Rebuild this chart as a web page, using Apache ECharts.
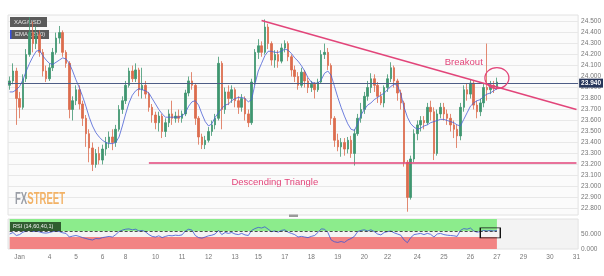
<!DOCTYPE html>
<html>
<head>
<meta charset="utf-8">
<script src="https://cdn.jsdelivr.net/npm/echarts@6/dist/echarts.min.js"></script>
<style>html,body{margin:0;padding:0;background:#fff}#c{width:604px;height:276px}</style>
</head>
<body>
<div id="c"></div>
<script>
// ---- data ----
const dayLabels = ['Jan','4','5','6','8','10','11','12','13','15','17','18','19','20','22','24','25','26','27','29','30','31'];
const dayIdx = [3,12,20,28,35,44,52,60,68,75,83,91,99,107,114,123,131,139,147,155,163,171];
const slotCount = 172;
const yTicks = [22.8,22.9,23.0,23.1,23.2,23.3,23.4,23.5,23.6,23.7,23.8,23.9,24.0,24.1,24.2,24.3,24.4,24.5];
const rsiTicks = [0, 50];
// [open, close, low, high]
const candles = [
[23.92,23.96,23.88,24.00],[23.96,24.05,23.93,24.12],[24.05,23.80,23.56,24.08],[23.80,23.72,23.62,23.86],
[23.72,23.98,23.70,24.02],[23.98,24.20,23.95,24.25],[24.20,24.40,24.18,24.54],[24.40,24.30,24.22,24.50],
[24.30,24.38,24.25,24.46],[24.38,24.22,24.18,24.42],[24.22,24.05,24.00,24.25],[24.05,23.98,23.95,24.10],
[23.98,24.08,23.96,24.12],[24.08,24.22,24.05,24.26],[24.22,24.35,24.20,24.40],[24.35,24.40,24.30,24.46],
[24.40,24.22,24.18,24.42],[24.22,24.12,24.08,24.24],[24.12,23.70,23.62,24.14],[23.70,23.78,23.60,23.82],
[23.78,23.88,23.74,23.92],[23.88,23.75,23.70,23.92],[23.75,23.62,23.55,23.78],[23.62,23.48,23.36,23.65],
[23.48,23.35,23.22,23.52],[23.35,23.20,23.14,23.40],[23.20,23.30,23.17,23.34],[23.30,23.24,23.20,23.36],
[23.24,23.34,23.20,23.38],[23.34,23.40,23.28,23.45],[23.40,23.45,23.35,23.50],[23.45,23.40,23.33,23.52],
[23.40,23.52,23.36,23.56],[23.52,23.70,23.50,23.74],[23.70,23.78,23.66,23.82],[23.78,23.92,23.75,23.96],
[23.92,24.05,23.90,24.08],[24.05,23.98,23.95,24.10],[23.98,24.06,23.95,24.12],[24.06,23.88,23.82,24.08],
[23.88,23.92,23.80,24.08],[23.92,23.84,23.80,23.96],[23.84,23.72,23.68,23.86],[23.72,23.65,23.58,23.75],
[23.65,23.58,23.52,23.68],[23.58,23.64,23.50,23.68],[23.64,23.50,23.44,23.66],[23.50,23.58,23.45,23.62],
[23.58,23.66,23.54,23.70],[23.66,23.62,23.56,23.78],[23.62,23.64,23.58,23.68],[23.64,23.62,23.58,23.70],
[23.62,23.66,23.58,23.69],[23.66,23.85,23.64,23.88],[23.85,23.96,23.82,24.00],[23.96,23.92,23.88,24.04],
[23.92,23.62,23.56,23.94],[23.62,23.45,23.38,23.64],[23.45,23.38,23.34,23.48],[23.38,23.42,23.34,23.46],
[23.42,23.50,23.40,23.54],[23.50,23.56,23.46,23.60],[23.56,23.62,23.52,23.66],[23.62,24.12,23.60,24.18],
[24.12,23.70,23.52,24.14],[23.70,23.86,23.66,23.90],[23.86,23.80,23.74,23.92],[23.80,23.88,23.76,23.92],
[23.88,23.78,23.72,23.90],[23.78,23.72,23.66,23.82],[23.72,23.80,23.68,23.84],[23.80,23.66,23.60,23.82],
[23.66,23.58,23.54,23.70],[23.58,23.95,23.56,23.98],[23.95,24.22,23.92,24.25],[24.22,24.28,24.16,24.34],
[24.28,24.22,24.18,24.32],[24.22,24.45,24.20,24.52],[24.45,24.30,24.25,24.48],[24.30,24.15,24.10,24.32],
[24.15,24.20,24.08,24.24],[24.20,24.14,24.08,24.24],[24.14,24.26,24.12,24.30],[24.26,24.30,24.22,24.33],
[24.30,24.18,24.14,24.32],[24.18,24.06,24.00,24.20],[24.06,24.00,23.95,24.10],[24.00,23.92,23.88,24.04],
[23.92,24.04,23.90,24.08],[24.04,23.96,23.90,24.06],[23.96,23.90,23.85,23.99],[23.90,23.93,23.86,23.96],
[23.93,23.88,23.80,23.95],[23.88,23.95,23.86,23.98],[23.95,24.20,23.94,24.24],[24.20,24.22,24.16,24.30],
[24.22,24.10,24.06,24.26],[24.10,23.62,23.56,24.12],[23.62,23.42,23.36,23.64],[23.42,23.36,23.32,23.48],
[23.36,23.40,23.27,23.44],[23.40,23.34,23.28,23.44],[23.34,23.42,23.30,23.45],[23.42,23.30,23.26,23.46],
[23.30,23.48,23.19,23.52],[23.48,23.62,23.46,23.66],[23.62,23.70,23.58,23.76],[23.70,23.82,23.66,23.86],
[23.82,23.90,23.78,23.96],[23.90,23.98,23.85,24.03],[23.98,23.92,23.86,24.02],[23.92,23.82,23.76,23.95],
[23.82,23.76,23.74,23.86],[23.76,23.90,23.72,23.92],[23.90,23.98,23.86,24.02],[23.98,24.08,23.95,24.13],
[24.08,23.96,23.90,24.10],[23.96,23.85,23.78,23.98],[23.85,23.76,23.70,23.88],[23.76,23.22,23.18,23.78],
[23.22,22.90,22.77,23.24],[22.90,23.25,22.88,23.28],[23.25,23.48,23.22,23.52],[23.48,23.56,23.42,23.60],
[23.56,23.60,23.50,23.64],[23.60,23.58,23.52,23.64],[23.58,23.72,23.56,23.76],[23.72,23.68,23.60,23.78],
[23.68,23.30,23.24,23.72],[23.30,23.66,23.28,23.70],[23.66,23.72,23.62,23.76],[23.72,23.66,23.60,23.76],
[23.66,23.62,23.56,23.70],[23.62,23.56,23.50,23.66],[23.56,23.52,23.44,23.60],[23.52,23.46,23.35,23.56],
[23.46,23.72,23.42,23.76],[23.72,23.88,23.68,23.92],[23.88,23.84,23.78,23.94],[23.84,23.94,23.80,23.97],
[23.94,23.74,23.70,23.96],[23.74,23.68,23.62,23.78],[23.68,23.76,23.64,23.80],[23.76,23.90,23.72,23.94],
[23.90,23.88,23.78,24.30],[23.88,23.92,23.84,23.96],[23.92,23.90,23.85,23.96],[23.90,23.95,23.88,23.99]
];
const ema = [
23.86,23.86,23.88,23.91,23.97,24.05,24.12,24.18,24.23,24.24,24.19,24.15,24.12,24.11,24.13,24.15,
24.17,24.16,24.12,24.05,23.97,23.90,23.82,23.73,23.63,23.55,23.49,23.45,23.42,23.40,23.39,23.39,
23.40,23.45,23.55,23.66,23.76,23.83,23.87,23.89,23.88,23.87,23.85,23.80,23.75,23.70,23.66,23.63,
23.63,23.63,23.63,23.63,23.64,23.67,23.73,23.77,23.78,23.74,23.66,23.59,23.55,23.57,23.63,23.67,
23.71,23.74,23.75,23.78,23.80,23.81,23.81,23.80,23.77,23.79,23.93,24.05,24.12,24.19,24.23,24.23,
24.22,24.22,24.23,24.25,24.24,24.21,24.17,24.14,24.10,24.05,23.99,23.95,23.94,23.94,23.97,24.03,
24.05,24.01,23.91,23.81,23.72,23.64,23.57,23.52,23.51,23.57,23.65,23.70,23.74,23.76,23.79,23.81,
23.83,23.85,23.88,23.91,23.93,23.92,23.84,23.72,23.63,23.57,23.54,23.52,23.53,23.55,23.56,23.58,
23.59,23.60,23.61,23.61,23.60,23.59,23.58,23.56,23.55,23.61,23.67,23.73,23.76,23.78,23.79,23.82,
23.84,23.85,23.87,23.89
];
const rsi = [
50,55,45,48,56,60,62,58,60,57,54,53,55,58,60,58,54,52,40,43,45,42,38,35,32,30,35,34,38,40,42,40,
48,58,63,66,67,64,66,60,62,57,48,42,40,44,38,42,45,44,46,45,47,60,66,63,45,38,36,40,44,46,50,62,
48,55,52,55,50,48,52,47,45,62,68,72,70,74,66,58,60,56,62,64,56,52,48,40,42,40,38,42,45,55,67,66,
55,30,24,22,25,22,30,35,42,58,62,64,60,64,58,50,47,55,58,60,54,50,46,30,21,38,48,50,52,48,52,49,
40,50,52,48,46,45,44,42,62,68,66,70,60,56,58,62,60,62,60,62
];
const lastPrice = 23.94;
const supportLevel = 23.22;
const trendStart = [76, 24.51];
const trendEnd = [171, 23.70];

// ---- chart ----
const categories = [];
for (let i = 0; i < slotCount; i++) categories.push('s' + i);
const lastIdx = candles.length - 1;
const pink = '#e2457a';
const FONT = "'Liberation Sans', Arial, sans-serif";
const chart = echarts.init(document.getElementById('c'), null, {renderer: 'canvas'});
chart.setOption({
  animation: false,
  backgroundColor: '#ffffff',
  grid: [
    {left: 8, right: 25, top: 15, height: 200, show: true, backgroundColor: '#fbfbfb', borderColor: '#e2e2e2', borderWidth: 1},
    {left: 8, right: 25, top: 219, height: 30, show: true, backgroundColor: '#f3f3f3', borderColor: '#e2e2e2', borderWidth: 1}
  ],
  xAxis: [
    {type: 'category', gridIndex: 0, data: categories, boundaryGap: true,
     axisLine: {show: false}, axisTick: {show: false}, axisLabel: {show: false}, splitLine: {show: false}},
    {type: 'category', gridIndex: 1, data: categories, boundaryGap: true,
     axisLine: {show: false}, axisTick: {show: false}, splitLine: {show: false},
     axisLabel: {show: true, fontSize: 6.5, color: '#777', fontFamily: FONT, margin: 5,
       interval: (idx) => dayIdx.indexOf(idx) >= 0,
       formatter: (v, idx) => { const k = dayIdx.indexOf(idx); return k >= 0 ? dayLabels[k] : ''; }}}
  ],
  yAxis: [
    {type: 'value', gridIndex: 0, position: 'right', min: 22.74, max: 24.56, scale: true,
     axisLine: {show: false},
     axisTick: {show: false, customValues: yTicks},
     axisLabel: {customValues: yTicks, fontSize: 6.5, color: '#777', fontFamily: FONT, margin: 3,
       formatter: (v) => Number(v).toFixed(3)},
     splitLine: {show: true, lineStyle: {color: '#e8e8e8', width: 1}}},
    {type: 'value', gridIndex: 1, position: 'right', min: 0, max: 100,
     axisLine: {show: false},
     axisTick: {show: false, customValues: rsiTicks},
     axisLabel: {customValues: rsiTicks, fontSize: 6.5, color: '#777', fontFamily: FONT, margin: 3,
       formatter: (v) => Number(v).toFixed(3)},
     splitLine: {show: false}}
  ],
  series: [
    {
      type: 'candlestick', xAxisIndex: 0, yAxisIndex: 0, data: candles, barWidth: 2,
      itemStyle: {color: '#3f9670', color0: '#dc6c4e', borderColor: '#3f9670', borderColor0: '#dc6c4e', borderWidth: 0.8},
      markLine: {
        silent: true, symbol: ['none', 'none'], label: {show: false},
        data: [
          {yAxis: lastPrice, lineStyle: {color: '#4e5d86', width: 1, type: 'solid'},
           label: {show: true, position: 'end', distance: 1, formatter: lastPrice.toFixed(3), color: '#fff',
             backgroundColor: '#27365a', fontSize: 6.5, fontWeight: 'bold', fontFamily: FONT, padding: [1, 2, 1, 2]}},
          [{coord: [42, supportLevel], lineStyle: {color: pink, width: 1.5, type: 'solid'}}, {coord: [171, supportLevel]}],
          [{coord: trendStart, lineStyle: {color: pink, width: 1.5, type: 'solid'}}, {coord: trendEnd}]
        ]
      },
      markPoint: {
        silent: true,
        data: [
          {coord: [147, 23.986], symbol: 'path://M0 10 A10 10 0 1 0 20 10 A10 10 0 1 0 0 10 Z', symbolSize: [24, 21],
           itemStyle: {color: 'rgba(0,0,0,0)', borderColor: pink, borderWidth: 1.2}, label: {show: false}},
          {coord: [137, 24.127], symbol: 'rect', symbolSize: 1, itemStyle: {color: 'rgba(0,0,0,0)'},
           label: {show: true, position: 'inside', formatter: 'Breakout', color: pink, fontSize: 9.5, fontFamily: FONT}},
          {coord: [80, 23.036], symbol: 'rect', symbolSize: 1, itemStyle: {color: 'rgba(0,0,0,0)'},
           label: {show: true, position: 'inside', formatter: 'Descending Triangle', color: pink, fontSize: 9.5, fontFamily: FONT}}
        ]
      }
    },
    {
      type: 'line', xAxisIndex: 0, yAxisIndex: 0, data: ema, symbol: 'none', silent: true,
      lineStyle: {color: '#4a5fd6', width: 0.8}
    },
    {
      type: 'line', xAxisIndex: 1, yAxisIndex: 1, data: rsi, symbol: 'none', silent: true, z: 3,
      lineStyle: {color: '#3b56d4', width: 0.8},
      markArea: {
        silent: true,
        data: [
          [{xAxis: 0, yAxis: 60, itemStyle: {color: '#8cec8c'}}, {xAxis: lastIdx, yAxis: 100}],
          [{xAxis: 0, yAxis: 0, itemStyle: {color: '#f28484'}}, {xAxis: lastIdx, yAxis: 40}]
        ]
      },
      markLine: {
        silent: true, symbol: ['none', 'none'], label: {show: false},
        data: [[{coord: [0, 60], lineStyle: {color: '#222', width: 0.8, type: [3, 2]}}, {coord: [lastIdx, 60]}]]
      },
      markPoint: {
        silent: true,
        data: [{coord: [145, 54], symbol: 'rect', symbolSize: [20, 10],
          itemStyle: {color: 'rgba(0,0,0,0)', borderColor: '#111', borderWidth: 1}, label: {show: false}}]
      }
    }
  ],
  graphic: [
    {type: 'rect', z: 1, shape: {x: 10, y: 17, width: 37, height: 10}, style: {fill: '#5b5b5b'}},
    {type: 'text', z: 1, x: 14, y: 22, style: {text: 'XAG/USD', fill: '#e4e4e4', fontSize: 6, fontFamily: FONT, verticalAlign: 'middle'}},
    {type: 'rect', z: 1, shape: {x: 10, y: 30, width: 39, height: 9}, style: {fill: '#5b5b5b'}},
    {type: 'rect', z: 1, shape: {x: 10, y: 30, width: 1.5, height: 9}, style: {fill: '#3850e0'}},
    {type: 'text', z: 1, x: 15, y: 34.5, style: {text: 'EMA (20,0)', fill: '#e4e4e4', fontSize: 6, fontFamily: FONT, verticalAlign: 'middle'}},
    {type: 'rect', z: 5, shape: {x: 10, y: 222, width: 51, height: 9}, style: {fill: '#2f5c2f'}},
    {type: 'text', z: 5, x: 13, y: 226.5, style: {text: 'RSI (14,60,40,1)', fill: '#f2f2f2', fontSize: 5.5, fontFamily: FONT, verticalAlign: 'middle'}},
    {type: 'text', z: 1, x: 15, y: 200, scaleX: 0.6,
     style: {text: '{a|FX}{b|STREET}', fontSize: 16, fontWeight: 'bold', fontFamily: FONT, verticalAlign: 'middle',
       rich: {a: {fill: '#9a9ea6', color: '#9a9ea6', fontSize: 16, fontWeight: 'bold', fontFamily: FONT},
              b: {fill: '#f2b266', color: '#f2b266', fontSize: 16, fontWeight: 'bold', fontFamily: FONT}}}},
    {type: 'rect', z: 5, shape: {x: 289, y: 214.5, width: 9, height: 2.5}, style: {fill: '#9a9a9a'}}
  ]
});
</script>
</body>
</html>
